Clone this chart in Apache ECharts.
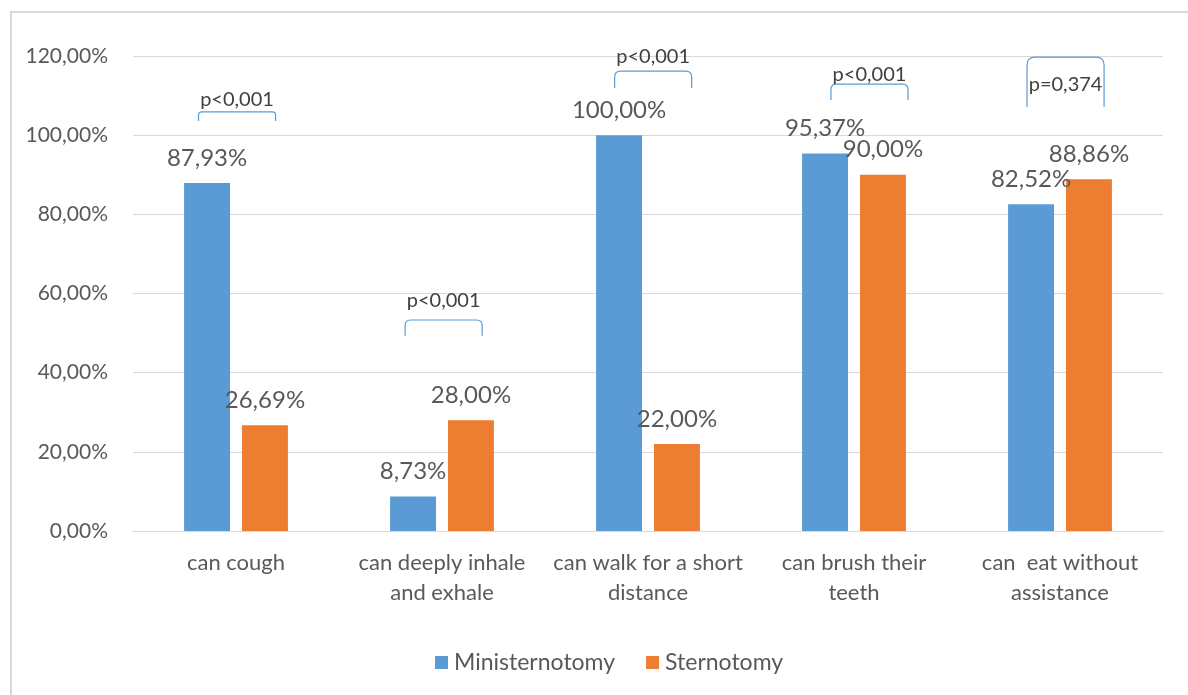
<!DOCTYPE html>
<html>
<head>
<meta charset="utf-8">
<script src="https://cdn.jsdelivr.net/npm/echarts@6/dist/echarts.min.js"></script>
<style>
  html, body { margin: 0; padding: 0; background: #fff; }
  #chart { width: 1188px; height: 695px; }
</style>
</head>
<body>
<div id="chart"></div>
<script>
// Categories and group values (percent)
const categories = [
  'can cough',
  'can deeply inhale\nand exhale',
  'can walk for a short\ndistance',
  'can brush their\nteeth',
  'can  eat without\nassistance'
];
const ministernotomy = [87.93, 8.73, 100.00, 95.37, 82.52];
const sternotomy = [26.69, 28.00, 22.00, 90.00, 88.86];
const yTicks = [0, 20, 40, 60, 80, 100, 120];

// Significance annotations: p-value text per category
const pValues = ['p<0,001', 'p<0,001', 'p<0,001', 'p<0,001', 'p=0,374'];
// Bracket levels on the value axis: [top, ends, text]
const bracketTop = [105.9, 53.3, 116.2, 112.9, 119.7];
const bracketEnd = [103.6, 49.3, 111.9, 108.9, 107.1];
const bracketText = [108.9, 58.1, 119.8, 115.2, 112.9];
// horizontal nudge of each bracket, as a fraction of the category band
const bracketShift = [0.005, 0.008, 0.025, 0.075, 0.027];

const FONT = 'Lato, "Open Sans", sans-serif';
const fmt = v => v.toFixed(2).replace('.', ',') + '%';

const bracketData = categories.map((c, i) =>
  [i, bracketTop[i], bracketEnd[i], bracketText[i], bracketShift[i]]);

const valueLabel = {
  show: true, position: 'top', distance: 13,
  color: '#595959', fontSize: 24, fontFamily: FONT,
  formatter: p => fmt(p.value)
};

const chart = echarts.init(document.getElementById('chart'), null, { renderer: 'canvas' });

chart.setOption({
  animation: false,
  backgroundColor: '#ffffff',
  textStyle: { fontFamily: FONT },
  graphic: [{
    type: 'polyline',
    silent: true,
    shape: { points: [[11, 695], [11, 12], [1188, 12]] },
    style: { stroke: '#d9d9d9', lineWidth: 2, fill: null }
  }],
  grid: { left: 133, right: 25, top: 56, bottom: 164, containLabel: false },
  legend: {
    data: ['Ministernotomy', 'Sternotomy'],
    bottom: 16,
    left: 430,
    icon: 'rect',
    itemWidth: 13,
    itemHeight: 13,
    itemGap: 31,
    textStyle: { color: '#595959', fontSize: 23, fontFamily: FONT, padding: [0, 0, 0, 1] }
  },
  xAxis: {
    type: 'category',
    data: categories,
    axisLine: { show: true, lineStyle: { color: '#d9d9d9', width: 1 } },
    axisTick: { show: false },
    axisLabel: {
      color: '#595959', fontSize: 22, fontFamily: FONT,
      lineHeight: 30, margin: 17, interval: 0
    }
  },
  yAxis: {
    type: 'value',
    min: yTicks[0],
    max: yTicks[yTicks.length - 1],
    interval: yTicks[1] - yTicks[0],
    axisLine: { show: false },
    axisTick: { show: false },
    splitLine: { lineStyle: { color: '#d9d9d9', width: 1 } },
    axisLabel: {
      color: '#595959', fontSize: 21, fontFamily: FONT, margin: 25,
      formatter: v => fmt(v)
    }
  },
  series: [
    {
      name: 'Ministernotomy',
      type: 'bar',
      data: ministernotomy,
      barWidth: '22.3%',
      barGap: '26%',
      itemStyle: { color: '#5B9BD5' },
      label: valueLabel
    },
    {
      name: 'Sternotomy',
      type: 'bar',
      data: sternotomy,
      barWidth: '22.3%',
      barGap: '26%',
      itemStyle: { color: '#ED7D31' },
      label: valueLabel
    },
    {
      // comparison brackets with p-values
      type: 'custom',
      silent: true,
      z: 10,
      encode: { x: 0, y: [1, 2, 3] },
      data: bracketData,
      renderItem: (params, api) => {
        const cat = api.value(0);
        const band = api.size([1, 0])[0];
        const top = api.coord([cat, api.value(1)]);
        const end = api.coord([cat, api.value(2)]);
        const txt = api.coord([cat, api.value(3)]);
        const cx = top[0] + api.value(4) * band;
        const hw = band * 0.187;
        const x0 = cx - hw, x1 = cx + hw;
        const yt = top[1], yb = end[1];
        const r = Math.min(8, (yb - yt) * 0.35);
        const path = `M${x0},${yb} L${x0},${yt + r} Q${x0},${yt} ${x0 + r},${yt} ` +
                     `L${x1 - r},${yt} Q${x1},${yt} ${x1},${yt + r} L${x1},${yb}`;
        return {
          type: 'group',
          children: [
            {
              type: 'path',
              shape: { pathData: path },
              style: { stroke: '#5B9BD5', lineWidth: 1.2, fill: null }
            },
            {
              type: 'text',
              style: {
                text: pValues[params.dataIndex],
                x: cx, y: txt[1],
                align: 'center', verticalAlign: 'middle',
                fill: '#404040', fontSize: 20, fontFamily: FONT
              }
            }
          ]
        };
      }
    }
  ]
});
</script>
</body>
</html>
